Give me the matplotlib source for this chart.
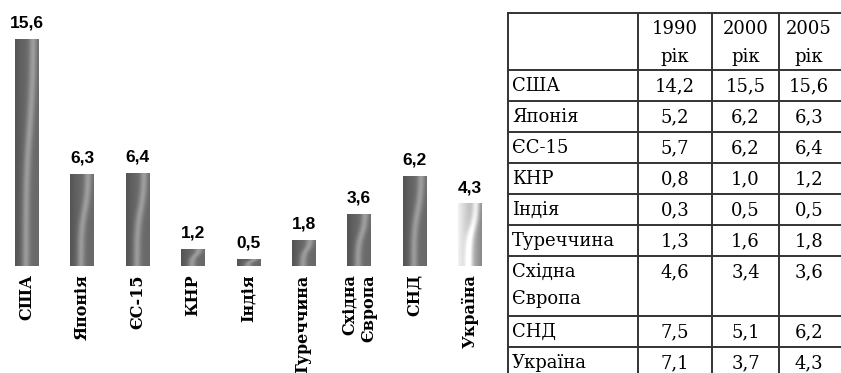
import numpy as np
import matplotlib.pyplot as plt

# дані
countries = ['США', 'Японія', 'ЄС-15', 'КНР', 'Індія', 'Туреччина', 'Східна\nЄвропа', 'СНД', 'Україна']
years = ['1990\nрік', '2000\nрік', '2005\nрік']
v1990 = [14.2, 5.2, 5.7, 0.8, 0.3, 1.3, 4.6, 7.5, 7.1]
v2000 = [15.5, 6.2, 6.2, 1.0, 0.5, 1.6, 3.4, 5.1, 3.7]
v2005 = [15.6, 6.3, 6.4, 1.2, 0.5, 1.8, 3.6, 6.2, 4.3]


def fmt(v):
    return f'{v:.1f}'.replace('.', ',')


def bar_texture(light=False, n=200, m=60):
    t = np.linspace(0, 1, n)[:, None]
    u = np.linspace(0, 1, m)[None, :]
    pos = 0.45 + 0.32 / (1 + np.exp(-(t - 0.6) * 9))
    streak = np.exp(-((u - pos) / 0.16) ** 2)
    if light:
        base = 0.95 - 0.42 * u
        img = np.clip(base + 0.3 * streak, 0, 1)
    else:
        base = 0.33 + 0.08 * u + 0.04 * np.sin(np.pi * u)
        img = base + 0.2 * streak
    return img


W, H = 841, 373
fig = plt.figure(figsize=(W / 100, H / 100), dpi=100)

# стовпчикова діаграма
ax = fig.add_axes([0, (H - 266) / H, 500 / W, 262 / H])
x = np.arange(len(countries))
bars = ax.bar(x, v2005, width=0.42, color='none')
for i, (b, v) in enumerate(zip(bars, v2005)):
    x0, w, h = b.get_x(), b.get_width(), b.get_height()
    im = ax.imshow(bar_texture(light=(countries[i] == 'Україна')), cmap='gray',
                   vmin=0, vmax=1, extent=(x0, x0 + w, 0, h), origin='lower',
                   aspect='auto', interpolation='bilinear', zorder=2)
    im.set_clip_path(b)
    ax.annotate(fmt(v), (x0 + w / 2, h), xytext=(0, 6), textcoords='offset points',
                ha='center', va='bottom', fontsize=12.5, fontweight='bold',
                family=['Liberation Sans', 'DejaVu Sans'])

ax.set_xlim(-0.478, 8.541)
ax.set_ylim(0, 18)
ax.set_xticks(x)
ax.set_xticklabels(countries, rotation=90, fontsize=11.5, fontweight='bold',
                   family='DejaVu Serif', va='top', ha='center', multialignment='right')
ax.tick_params(axis='x', length=0, pad=6)
ax.set_yticks([])
for s in ax.spines.values():
    s.set_visible(False)
ax.patch.set_alpha(0)

# таблиця
tab = fig.add_axes([508 / W, 0, (W - 508) / W, 1])
tab.set_xlim(508, W)
tab.set_ylim(H, 0)
tab.axis('off')

col_edges = [508, 638, 712, 779, 840]
row_heights = [57] + [31] * 6 + [60] + [31] * 2
row_edges = np.concatenate([[13], 13 + np.cumsum(row_heights)])
lc = '#333333'
for y in row_edges:
    tab.plot([508, W + 5], [y, y], color=lc, lw=1.4, clip_on=False)
for xc in col_edges[:-1]:
    tab.plot([xc, xc], [13, row_edges[-1]], color=lc, lw=1.4, clip_on=False)

tf = dict(family='DejaVu Serif', fontsize=13, color='black', va='center')


def cell(text, xc, top, ha):
    for k, line in enumerate(text.split('\n')):
        tab.text(xc, top + 16 + 27.5 * k, line, ha=ha, **tf)


centers = [(col_edges[j] + col_edges[j + 1]) / 2 for j in range(3)] + [809]
for j, yr in enumerate(years):
    cell(yr, centers[j + 1], row_edges[0], 'center')
for i, name in enumerate(countries):
    top = row_edges[i + 1]
    cell(name, 512, top, 'left')
    for j, vals in enumerate([v1990, v2000, v2005]):
        cell(fmt(vals[i]), centers[j + 1], top, 'center')

fig.savefig('out.png', dpi=100)
